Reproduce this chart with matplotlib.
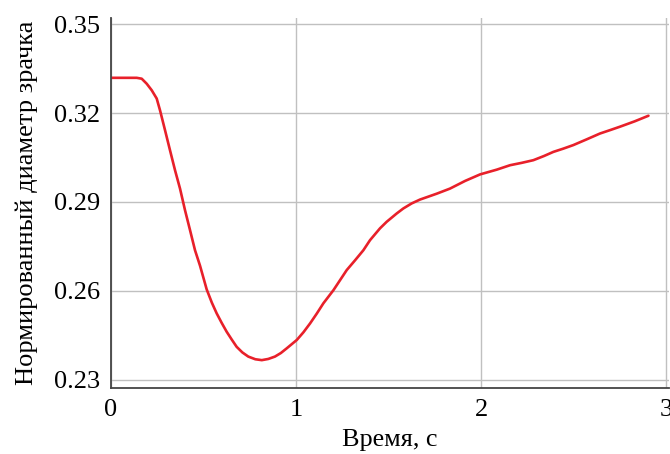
import matplotlib
matplotlib.use("Agg")
import matplotlib.pyplot as plt

# time, s
time_s = [0.0, 0.139, 0.166, 0.193, 0.220, 0.247, 0.265, 0.292, 0.319, 0.346,
          0.373, 0.400, 0.427, 0.454, 0.481, 0.517, 0.545, 0.571, 0.598, 0.625,
          0.652, 0.679, 0.710, 0.742, 0.780, 0.815, 0.850, 0.886, 0.918, 0.950,
          1.004, 1.040, 1.076, 1.112, 1.148, 1.202, 1.274, 1.319, 1.364, 1.400,
          1.454, 1.490, 1.544, 1.580, 1.625, 1.670, 1.761, 1.832, 1.914, 1.995,
          2.085, 2.157, 2.220, 2.283, 2.340, 2.391, 2.445, 2.499, 2.570, 2.643,
          2.700, 2.751, 2.830, 2.905]
# normalised pupil diameter
pupil = [0.3319, 0.3319, 0.3316, 0.3299, 0.3277, 0.3249, 0.3209, 0.3142, 0.3074, 0.3007,
         0.2945, 0.2872, 0.2805, 0.2737, 0.2685, 0.2605, 0.2560, 0.2524, 0.2492, 0.2462,
         0.2436, 0.2411, 0.2392, 0.2378, 0.2369, 0.2366, 0.2370, 0.2378, 0.2390, 0.2406,
         0.2434, 0.2460, 0.2490, 0.2523, 0.2558, 0.2602, 0.2670, 0.2703, 0.2737, 0.2771,
         0.2811, 0.2833, 0.2861, 0.2878, 0.2895, 0.2908, 0.2928, 0.2945, 0.2971, 0.2993,
         0.3009, 0.3024, 0.3032, 0.3041, 0.3055, 0.3069, 0.3080, 0.3092, 0.3111, 0.3131,
         0.3143, 0.3154, 0.3172, 0.3191]

x_ticks = [0, 1, 2, 3]
y_ticks = [0.23, 0.26, 0.29, 0.32, 0.35]

plt.rcParams['font.family'] = ['Liberation Serif', 'DejaVu Serif']

fig = plt.figure(figsize=(6.7, 4.54), dpi=100)
ax = fig.add_axes([0.1657, 0.1454, 0.8328, 0.815])

ax.plot(time_s, pupil, color='#e8202a', lw=1.9,
        solid_joinstyle='round', solid_capstyle='round')

ax.set_xlim(0, 3.016)
ax.set_ylim(0.2272, 0.3521)
ax.set_xticks(x_ticks)
ax.set_xticklabels([str(t) for t in x_ticks])
ax.set_yticks(y_ticks)
ax.set_yticklabels([f"{t:.2f}" for t in y_ticks])
ax.tick_params(length=0, labelsize=19, pad=8)

ax.grid(True, color='#c0c0c0', lw=1.0)
ax.set_axisbelow(True)
for side in ['top', 'right']:
    ax.spines[side].set_visible(False)
for side in ['left', 'bottom']:
    ax.spines[side].set_color('#444444')
    ax.spines[side].set_linewidth(1.3)

ax.set_xlabel('Время, с', fontsize=18.8, labelpad=6)
ax.set_ylabel('Нормированный диаметр зрачка', fontsize=19, labelpad=11)

fig.savefig('out.png', dpi=100)
